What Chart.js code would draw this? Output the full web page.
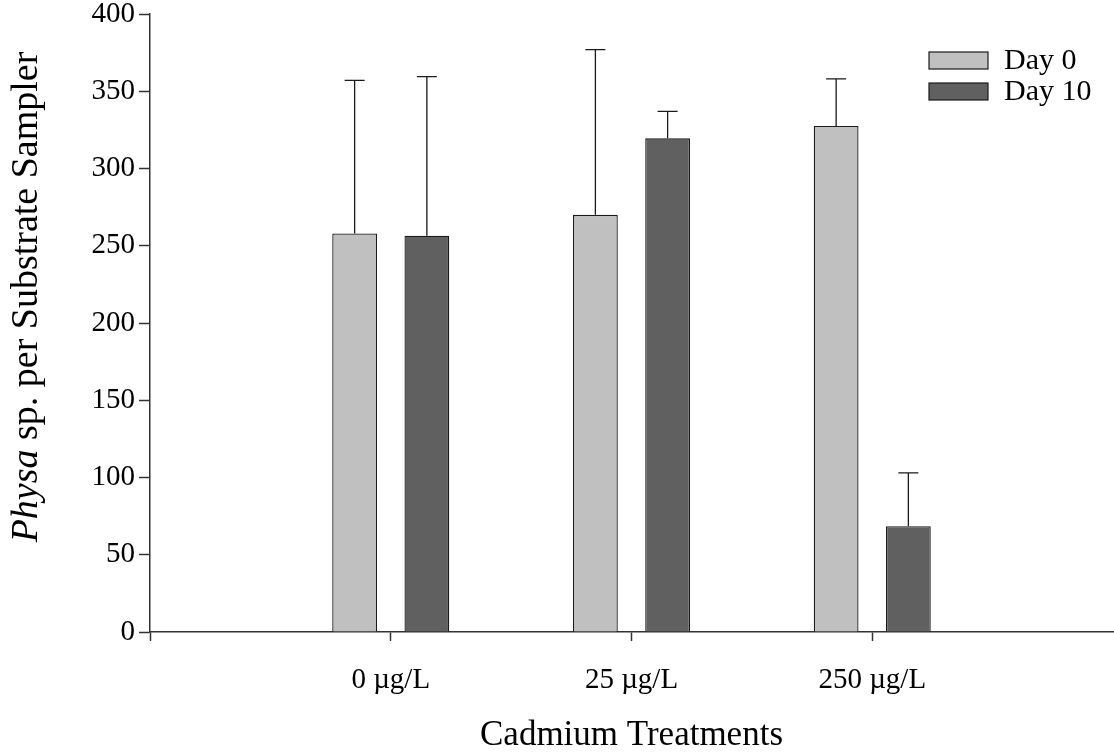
<!DOCTYPE html>
<html>
<head>
<meta charset="utf-8">
<script src="https://cdn.jsdelivr.net/npm/chart.js@4/dist/chart.umd.min.js"></script>
<style>
  html, body { margin: 0; padding: 0; background: #fff; }
  #wrap { width: 1114px; height: 755px; }
</style>
</head>
<body>
<div id="wrap"><canvas id="cadChart"></canvas></div>
<script>
// treatments (empty slots at both ends keep the groups off the axis ends)
const treatments = ['', '0 \u00b5g/L', '25 \u00b5g/L', '250 \u00b5g/L', ''];
const day0Means = [null, 258, 270, 327.5, null];
const day0Errors = [null, 99, 107, 30.5, null];
const day10Means = [null, 256.5, 319.5, 68.5, null];
const day10Errors = [null, 103, 17.5, 34.5, null];
const yTicks = [0, 50, 100, 150, 200, 250, 300, 350, 400];

const serif = 'Liberation Serif, Times New Roman, serif';
const axisColor = '#333';

// draws the upper error whisker with a cap on every bar
const errorBars = {
  id: 'errorBars',
  afterDatasetsDraw(chart) {
    const ctx = chart.ctx;
    const yScale = chart.scales.y;
    ctx.save();
    ctx.strokeStyle = '#1a1a1a';
    ctx.lineWidth = 1.3;
    chart.data.datasets.forEach((ds, i) => {
      const meta = chart.getDatasetMeta(i);
      meta.data.forEach((bar, j) => {
        const v = ds.data[j];
        const e = ds.errors[j];
        if (v == null || e == null) return;
        const yTop = yScale.getPixelForValue(v + e);
        const yBar = yScale.getPixelForValue(v);
        ctx.beginPath();
        ctx.moveTo(bar.x, yBar);
        ctx.lineTo(bar.x, yTop);
        ctx.moveTo(bar.x - 10, yTop);
        ctx.lineTo(bar.x + 10, yTop);
        ctx.stroke();
      });
    });
    ctx.restore();
  }
};

// axis titles (italic genus name) and the legend box in the top right
const decorations = {
  id: 'decorations',
  afterDraw(chart) {
    const ctx = chart.ctx;
    const area = chart.chartArea;
    ctx.save();
    ctx.fillStyle = '#000';
    ctx.textBaseline = 'alphabetic';

    // y title
    ctx.save();
    ctx.translate(37, 297);
    ctx.rotate(-Math.PI / 2);
    const italicFont = 'italic 38px ' + serif;
    const plainFont = '38px ' + serif;
    const part1 = 'Physa';
    const part2 = ' sp. per Substrate Sampler';
    ctx.font = italicFont;
    const w1 = ctx.measureText(part1).width;
    ctx.font = plainFont;
    const w2 = ctx.measureText(part2).width;
    const x0 = -(w1 + w2) / 2;
    ctx.textAlign = 'left';
    ctx.font = italicFont;
    ctx.fillText(part1, x0, 0);
    ctx.font = plainFont;
    ctx.fillText(part2, x0 + w1, 0);
    ctx.restore();

    // x title
    ctx.font = '35px ' + serif;
    ctx.textAlign = 'center';
    ctx.fillText('Cadmium Treatments', (area.left + area.right) / 2, 745);

    // legend
    ctx.textAlign = 'left';
    ctx.font = '30px ' + serif;
    chart.data.datasets.forEach((ds, i) => {
      const y = 52 + i * 31;
      ctx.fillStyle = ds.backgroundColor;
      ctx.fillRect(929, y, 59, 17);
      ctx.strokeStyle = '#1a1a1a';
      ctx.lineWidth = 1.2;
      ctx.strokeRect(929, y, 59, 17);
      ctx.fillStyle = '#000';
      ctx.fillText(ds.label, 1004, y + 17);
    });
    ctx.restore();
  }
};

new Chart(document.getElementById('cadChart'), {
  type: 'bar',
  data: {
    labels: treatments,
    datasets: [
      {
        label: 'Day 0',
        data: day0Means,
        errors: day0Errors,
        backgroundColor: '#c0c0c0',
        borderColor: '#1a1a1a',
        borderWidth: 1.3
      },
      {
        label: 'Day 10',
        data: day10Means,
        errors: day10Errors,
        backgroundColor: '#606060',
        borderColor: '#1a1a1a',
        borderWidth: 1.3
      }
    ]
  },
  options: {
    responsive: true,
    maintainAspectRatio: false,
    animation: false,
    layout: { padding: { top: 14, right: 1, left: 0, bottom: 0 } },
    datasets: {
      bar: { categoryPercentage: 0.6, barPercentage: 0.62 }
    },
    plugins: {
      legend: { display: false },
      tooltip: { enabled: false }
    },
    scales: {
      x: {
        type: 'category',
        offset: false,
        afterFit: (s) => {
          s.height = 123;
          s.paddingLeft = 0;
          s.paddingRight = 0;
        },
        border: { color: axisColor, width: 1.5 },
        grid: {
          offset: false,
          drawOnChartArea: false,
          drawTicks: true,
          tickLength: 9,
          tickWidth: 1.5,
          tickColor: (c) => (c.index === treatments.length - 1 ? 'rgba(0,0,0,0)' : axisColor)
        },
        ticks: {
          autoSkip: false,
          maxRotation: 0,
          padding: 22,
          color: '#000',
          font: { family: serif, size: 29 }
        }
      },
      y: {
        min: 0,
        max: 400,
        afterFit: (s) => {
          s.width = 150;
          s.paddingTop = 0;
          s.paddingBottom = 0;
        },
        afterBuildTicks: (s) => { s.ticks = yTicks.map(v => ({ value: v })); },
        border: { color: axisColor, width: 1.5 },
        grid: {
          drawOnChartArea: false,
          drawTicks: true,
          tickLength: 11,
          tickWidth: 1.5,
          tickColor: axisColor
        },
        ticks: {
          padding: 4,
          color: '#000',
          font: { family: serif, size: 29 }
        }
      }
    }
  },
  plugins: [errorBars, decorations]
});
</script>
</body>
</html>
